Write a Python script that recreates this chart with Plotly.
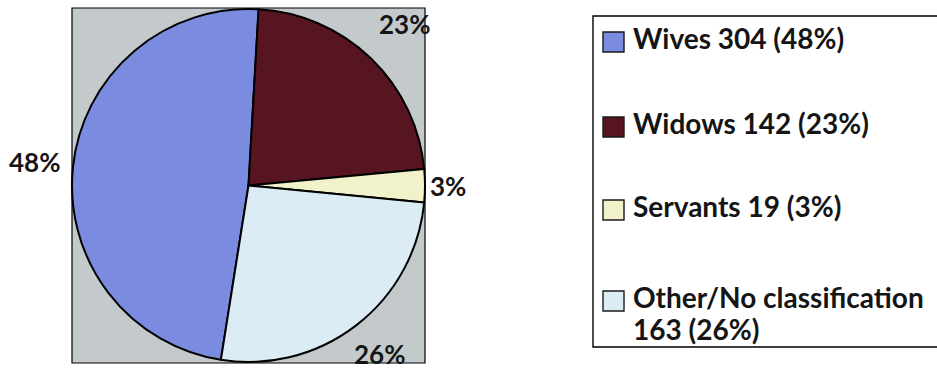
import math
import plotly.graph_objects as go

# ---- data ----
labels = ["Wives", "Widows", "Servants", "Other/No classification"]
values = [304, 142, 19, 163]
colors = ["#7b8be0", "#571522", "#f1f2c9", "#dcecf4"]

# ---- layout constants (pixels) ----
W, H = 937, 372
BOX = (72, 8, 425, 363)          # gray plot area: x0, y0(top), x1, y1
ROTATION = 189                   # start angle of first slice, clockwise from 12 o'clock
LABEL_R = [1.22, 1.27, 1.13, 1.21]  # label distance / radius
PIE_FONT = dict(family="Lato, 'Open Sans', sans-serif", size=26, color="#151515", weight=700)
LEG_FONT = dict(family="Lato, 'Open Sans', sans-serif", size=28, color="#151515", weight=700)

def px(x):
    return x / W

def py(y):
    return 1 - y / H

total = sum(values)
pcts = [round(100 * v / total) for v in values]

fig = go.Figure(go.Pie(
    labels=labels,
    values=values,
    sort=False,
    direction="clockwise",
    rotation=ROTATION,
    marker=dict(colors=colors, line=dict(color="#000000", width=2)),
    textinfo="none",
    hoverinfo="label+value+percent",
    domain=dict(x=[px(BOX[0]), px(BOX[2])], y=[py(BOX[3]), py(BOX[1])]),
    showlegend=False,
))

shapes = []
annotations = []

# gray plot area behind pie
shapes.append(dict(type="rect", xref="paper", yref="paper", layer="below",
                   x0=px(BOX[0]), x1=px(BOX[2]), y0=py(BOX[3]), y1=py(BOX[1]),
                   fillcolor="#c4cacc", line=dict(color="#000000", width=1.2)))

# percentage labels outside the slices
cx = (BOX[0] + BOX[2]) / 2
cy = (BOX[1] + BOX[3]) / 2
R = min(BOX[2] - BOX[0], BOX[3] - BOX[1]) / 2
start = ROTATION
for v, p, f in zip(values, pcts, LABEL_R):
    span = 360 * v / total
    mid = math.radians(start + span / 2)
    start += span
    lx = cx + f * R * math.sin(mid)
    ly = cy - f * R * math.cos(mid)
    annotations.append(dict(x=px(lx), y=py(ly), xref="paper", yref="paper",
                            text=f"{p}%", showarrow=False, font=PIE_FONT,
                            xanchor="center", yanchor="middle"))

# manual legend
LEG_X0, LEG_Y0, LEG_Y1 = 593, 16, 347
shapes.append(dict(type="rect", xref="paper", yref="paper",
                   x0=px(LEG_X0), x1=px(W + 5), y0=py(LEG_Y1), y1=py(LEG_Y0),
                   fillcolor="#ffffff", line=dict(color="#000000", width=1.4)))
item_y = [42, 127, 210, 301]   # centre of each legend row
LINE_PITCH = 32
CAP_OFF = 23                   # text-box top above cap centre
for lab, v, p, c, yy in zip(labels, values, pcts, colors, item_y):
    shapes.append(dict(type="rect", xref="paper", yref="paper",
                       x0=px(603), x1=px(624), y0=py(yy + 10), y1=py(yy - 10),
                       fillcolor=c, line=dict(color="#1a1a1a", width=1.4)))
    if len(lab) > 12:
        lines = [lab, f"{v} ({p}%)"]
    else:
        lines = [f"{lab} {v} ({p}%)"]
    for i, t in enumerate(lines):
        annotations.append(dict(x=px(631), y=py(yy + i * LINE_PITCH - CAP_OFF),
                                xref="paper", yref="paper",
                                text=t, showarrow=False, font=LEG_FONT, align="left",
                                xanchor="left", yanchor="top"))

fig.update_layout(
    width=W, height=H,
    margin=dict(l=0, r=0, t=0, b=0),
    paper_bgcolor="#ffffff",
    plot_bgcolor="#ffffff",
    shapes=shapes,
    annotations=annotations,
    showlegend=False,
)

fig.write_html("out.html")
